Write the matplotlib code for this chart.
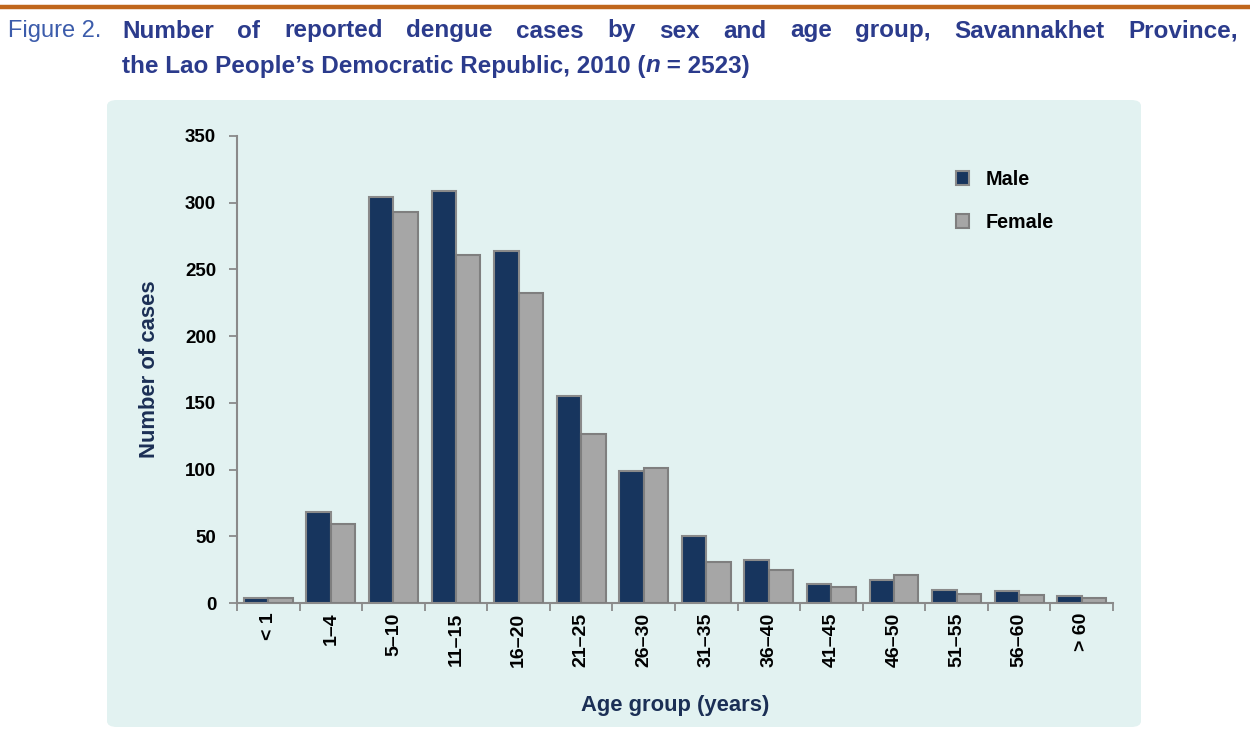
import matplotlib
matplotlib.use("Agg")
import matplotlib.pyplot as plt
import numpy as np
from matplotlib.patches import FancyBboxPatch
from matplotlib.lines import Line2D

categories = ["< 1", "1–4", "5–10", "11–15", "16–20", "21–25", "26–30",
              "31–35", "36–40", "41–45", "46–50", "51–55", "56–60", "> 60"]
male = [4, 68, 304, 309, 264, 155, 99, 50, 32, 14, 17, 10, 9, 5]
female = [4, 59, 293, 261, 232, 127, 101, 31, 25, 12, 21, 7, 6, 4]
yticks = [0, 50, 100, 150, 200, 250, 300, 350]

W, H = 1250, 736
fig = plt.figure(figsize=(W / 100, H / 100), dpi=100)
fig.patch.set_facecolor("white")

# top orange rule
fig.add_artist(Line2D([0, 1], [1 - 7 / H, 1 - 7 / H], color="#c0661c", lw=3.2,
                      transform=fig.transFigure))

# panel
panel = FancyBboxPatch((107 / W, 1 - 727 / H), (1141 - 107) / W, (727 - 100) / H,
                       boxstyle="round,pad=0,rounding_size=0.008",
                       transform=fig.transFigure, facecolor="#e2f2f1",
                       edgecolor="none", zorder=0)
fig.add_artist(panel)

title_font = ["Liberation Sans"]
title_color = "#2b3b8c"
tsize = 17.5
fig.text(8 / W, 1 - 31 / H, "Figure 2.", fontsize=17, color="#3c5cab",
         family=title_font, va="center", ha="left")

words1 = ["Number", "of", "reported", "dengue", "cases", "by", "sex", "and",
          "age", "group,", "Savannakhet", "Province,"]
x0, x1 = 122 / W, 1238 / W
fig.canvas.draw()
renderer = fig.canvas.get_renderer()
texts = []
for w in words1:
    t = fig.text(0, 1 - 31 / H, w, fontsize=tsize, fontweight="bold", color=title_color,
                 family=title_font, va="center", ha="left")
    texts.append(t)
widths = [t.get_window_extent(renderer).width / W for t in texts]
gap = (x1 - x0 - sum(widths)) / (len(words1) - 1)
x = x0
for t, wd in zip(texts, widths):
    t.set_x(x)
    x += wd + gap

y2 = 1 - 66 / H
t_a = fig.text(x0, y2, "the Lao People’s Democratic Republic, 2010 (", fontsize=tsize,
               fontweight="bold", color=title_color, family=title_font, va="center", ha="left")
wa = t_a.get_window_extent(renderer).width / W
t_n = fig.text(x0 + wa, y2, "n", fontsize=tsize, fontweight="bold", style="italic",
               color=title_color, family=title_font, va="center", ha="left")
wn = t_n.get_window_extent(renderer).width / W
fig.text(x0 + wa + wn, y2, " = 2523)", fontsize=tsize, fontweight="bold",
         color=title_color, family=title_font, va="center", ha="left")

ax = fig.add_axes([237 / W, 1 - 603 / H, (1113 - 237) / W, (603 - 136) / H])
ax.set_facecolor("none")

xs = np.arange(len(categories))
bw = 0.39
ax.bar(xs - bw / 2, male, bw, color="#17355e", edgecolor="#8a8a8a", linewidth=1.5,
       label="Male", zorder=3)
ax.bar(xs + bw / 2, female, bw, color="#a6a6a6", edgecolor="#7f7f7f", linewidth=1.5,
       label="Female", zorder=3)

ax.set_xlim(-0.5, len(categories) - 0.5)
ax.set_ylim(0, 350)
ax.set_yticks(yticks)
ax.set_yticklabels([str(v) for v in yticks], fontsize=13.5, fontweight="bold",
                   family="Liberation Sans")
ax.set_xticks(xs)
ax.set_xticklabels(categories, rotation=90, fontsize=14, fontweight="bold",
                   family="Liberation Sans", va="top")
ax.set_xticks(np.arange(-0.5, len(categories), 1), minor=True)
ax.tick_params(axis="x", which="major", length=0, pad=7)
ax.tick_params(axis="x", which="minor", length=6, color="#8a8a8a", width=1.3)
ax.tick_params(axis="y", length=6, color="#8a8a8a", width=1.3, pad=9)

for s in ["top", "right"]:
    ax.spines[s].set_visible(False)
for s in ["left", "bottom"]:
    ax.spines[s].set_color("#8a8a8a")
    ax.spines[s].set_linewidth(1.5)

ax.set_ylabel("Number of cases", fontsize=15.8, fontweight="bold", color="#1b2f55",
              family="Liberation Sans", labelpad=18)
ax.set_xlabel("Age group (years)", fontsize=15.8, fontweight="bold", color="#1b2f55",
              family="Liberation Sans", labelpad=20)

leg = ax.legend(loc="upper left", bbox_to_anchor=(0.8, 0.965), frameon=False,
                prop={"family": "Liberation Sans", "weight": "bold", "size": 14.2},
                handlelength=0.7, handleheight=0.7, labelspacing=1.2,
                handletextpad=0.8)

fig.savefig("out.png", dpi=100)
